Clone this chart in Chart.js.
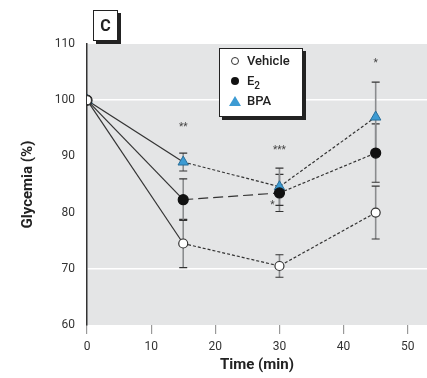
<!DOCTYPE html>
<html>
<head>
<meta charset="utf-8">
<script src="https://cdn.jsdelivr.net/npm/chart.js@4/dist/chart.umd.min.js"></script>
<style>
  body { margin: 0; background: #fff; }
  #wrap { position: relative; width: 427px; height: 378px; }
  canvas { position: absolute; left: 0; top: 0; }
  .panel {
    position: absolute; left: 93px; top: 10px; width: 23px; height: 29px;
    border: 1px solid #222; background: #fff; box-shadow: 3px 3px 0 #222;
    font: bold 16px Roboto, sans-serif;
    text-align: center; line-height: 29px; color: #222;
  }
  .legend {
    position: absolute; left: 219px; top: 48px; width: 82px; height: 67px;
    border: 1px solid #222; background: #fff; box-shadow: 3px 3px 0 #222;
    font: 500 13px Roboto, sans-serif; color: #222;
  }
  .row { position: absolute; left: 0; height: 16px; line-height: 16px; }
  .row span.t { position: absolute; left: 27px; white-space: nowrap; }
  .mk { position: absolute; left: 11px; top: 4px; width: 8px; height: 8px; border-radius: 50%; box-sizing: border-box; }
  .open { border: 1.3px solid #333; background: #fff; }
  .fill { background: #111; }
  .tri { position: absolute; left: 9px; top: 3px; width: 0; height: 0;
    border-left: 6px solid transparent; border-right: 6px solid transparent; border-bottom: 10px solid #3d9bd3; }
</style>
</head>
<body>
<div id="wrap">
  <canvas id="c" width="427" height="378"></canvas>
  <div class="panel">C</div>
  <div class="legend">
    <div class="row" style="top:4px"><div class="mk open"></div><span class="t">Vehicle</span></div>
    <div class="row" style="top:24px"><div class="mk fill"></div><span class="t">E<sub style="font-size:10px">2</sub></span></div>
    <div class="row" style="top:44px"><div class="tri"></div><span class="t">BPA</span></div>
  </div>
</div>
<script>
const times = [0, 15, 30, 45];
const vehicle = [100, 74.5, 70.5, 80];
const e2 = [100, 82.3, 83.5, 90.6];
const bpa = [100, 89, 84.6, 97];
const vehicleErr = [0, 4.3, 2, 4.7];
const e2Err = [0, 3.7, 3.3, 5.2];
const bpaErr = [0, 1.6, 3.3, 6.2];
const yTicks = [60, 70, 80, 90, 100, 110];
const xTicks = [0, 10, 20, 30, 40, 50];
const whiteLines = [70, 100];
const annotX = [15, 30, 30, 45];
const annotY = [95.2, 91, 81.3, 106.5];
const annotText = ['**', '***', '*', '*'];

const fontFam = 'Roboto, sans-serif';

const toPts = (vals) => times.map((t, i) => ({ x: t, y: vals[i] }));

const bgPlugin = {
  id: 'bg',
  beforeDraw(chart) {
    const { ctx, chartArea: a } = chart;
    ctx.save();
    ctx.fillStyle = '#e4e5e6';
    ctx.fillRect(a.left, a.top, a.right - a.left, a.bottom - a.top);
    ctx.restore();
  }
};

const errPlugin = {
  id: 'errbars',
  beforeDatasetsDraw(chart) {
    const { ctx, scales: { x, y } } = chart;
    const sets = [[vehicle, vehicleErr], [e2, e2Err], [bpa, bpaErr]];
    ctx.save();
    sets.forEach(([vals, errs]) => {
      vals.forEach((v, i) => {
        if (!errs[i]) return;
        const px = x.getPixelForValue(times[i]);
        const top = y.getPixelForValue(v + errs[i]);
        const bot = y.getPixelForValue(v - errs[i]);
        ctx.strokeStyle = '#8a8c8e';
        ctx.lineWidth = 1.6;
        ctx.beginPath();
        ctx.moveTo(px, top);
        ctx.lineTo(px, bot);
        ctx.stroke();
        ctx.strokeStyle = '#333';
        ctx.lineWidth = 1.2;
        ctx.beginPath();
        ctx.moveTo(px - 4, top); ctx.lineTo(px + 4, top);
        ctx.moveTo(px - 4, bot); ctx.lineTo(px + 4, bot);
        ctx.stroke();
      });
    });
    ctx.fillStyle = '#444';
    ctx.font = '10px ' + fontFam;
    ctx.textAlign = 'center';
    ctx.textBaseline = 'middle';
    annotText.forEach((t, i) => {
      const dx = (i === 2) ? -7 : 0;
      ctx.fillText(t, x.getPixelForValue(annotX[i]) + dx, y.getPixelForValue(annotY[i]));
    });
    ctx.restore();
  }
};

const dashAfterFirst = (dash) => ({
  borderDash: (c) => (c.p0DataIndex === 0 ? [] : dash)
});

new Chart(document.getElementById('c').getContext('2d'), {
  type: 'line',
  data: {
    datasets: [
      {
        label: 'Vehicle', data: toPts(vehicle),
        borderColor: '#333', borderWidth: 1.2,
        pointStyle: 'circle', pointRadius: 4.5, pointBackgroundColor: '#fff', pointBorderColor: '#333', pointBorderWidth: 1.2,
        segment: dashAfterFirst([3, 2])
      },
      {
        label: 'E2', data: toPts(e2),
        borderColor: '#333', borderWidth: 1.2,
        pointStyle: 'circle', pointRadius: 5, pointBackgroundColor: '#111', pointBorderColor: '#111',
        segment: { borderDash: (c) => (c.p0DataIndex === 0 ? [] : c.p0DataIndex === 1 ? [10, 5] : [3, 2]) }
      },
      {
        label: 'BPA', data: toPts(bpa),
        borderColor: '#333', borderWidth: 1.2,
        pointStyle: 'triangle', pointRadius: 6, pointBackgroundColor: '#3d9bd3', pointBorderColor: '#2a6f99', pointBorderWidth: 1,
        segment: dashAfterFirst([3, 2])
      }
    ]
  },
  options: {
    responsive: false,
    animation: false,
    layout: { autoPadding: false, padding: { top: 44, right: 0, left: 0, bottom: 0 } },
    plugins: { legend: { display: false }, tooltip: { enabled: false } },
    scales: {
      x: {
        type: 'linear', min: 0, max: 53,
        afterBuildTicks: (s) => { s.ticks = xTicks.map(v => ({ value: v })); },
        afterFit: (s) => { s.height = 53; s.paddingLeft = 0; s.paddingRight = 0; },
        border: { display: false },
        grid: { display: true, drawOnChartArea: false, drawTicks: true, tickLength: 9, color: '#999', lineWidth: 1.2 },
        ticks: { color: '#333', font: { family: fontFam, size: 12 }, padding: 6 },
        title: { display: true, text: 'Time (min)', color: '#222', font: { family: fontFam, size: 15, weight: 'bold' }, padding: { top: 4 } }
      },
      y: {
        min: 60, max: 110,
        afterBuildTicks: (s) => { s.ticks = yTicks.map(v => ({ value: v })); },
        afterFit: (s) => { s.width = 87; },
        border: { display: true, color: '#333', width: 1.5 },
        grid: {
          drawTicks: false,
          color: (c) => whiteLines.includes(c.tick && c.tick.value) ? '#ffffff' : 'rgba(0,0,0,0)',
          lineWidth: 1.5
        },
        ticks: { color: '#333', font: { family: fontFam, size: 12 }, padding: 12 },
        title: { display: true, text: 'Glycemia (%)', color: '#222', font: { family: fontFam, size: 15, weight: 'bold' }, padding: { top: 19, bottom: 4 } }
      }
    }
  },
  plugins: [bgPlugin, errPlugin]
});
</script>
</body>
</html>
